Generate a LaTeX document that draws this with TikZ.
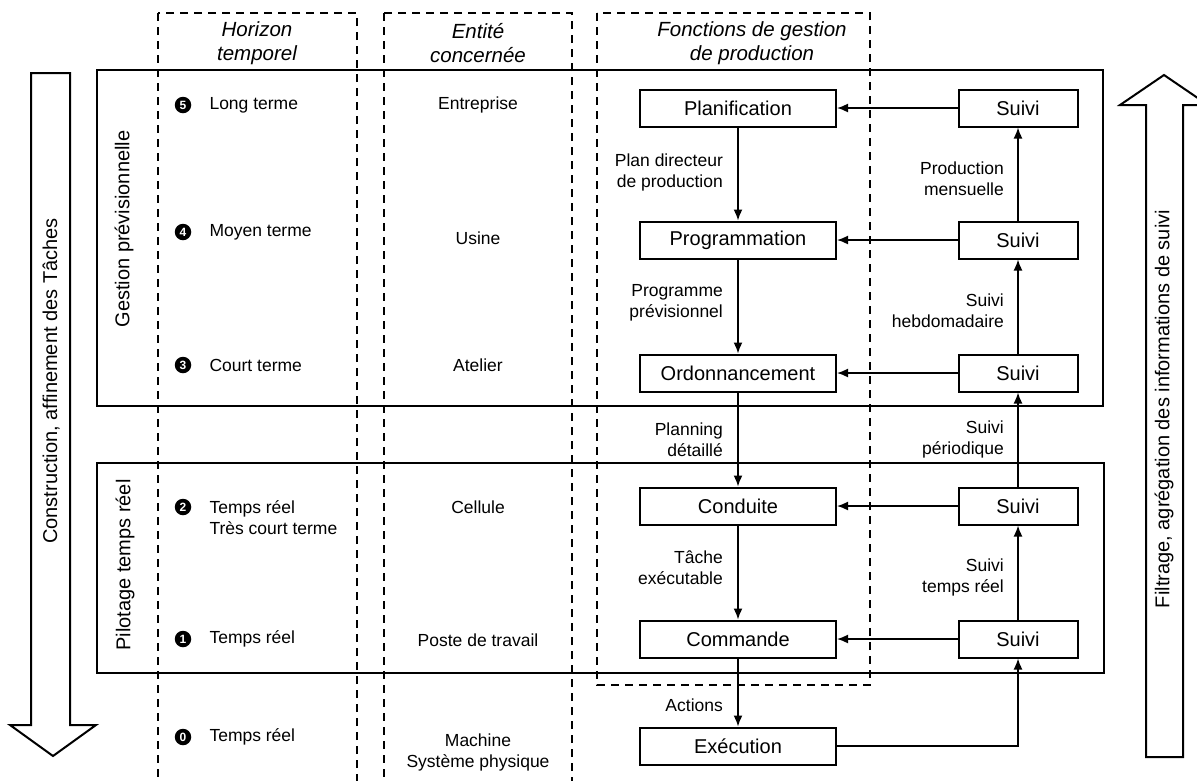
\documentclass[tikz,border=0pt]{standalone}
\usepackage{fontspec}
\setmainfont{Liberation Sans}
\usetikzlibrary{arrows.meta, calc}

\tikzset{
    zone/.style={draw, line width=2pt},
    colbox/.style={draw, line width=2.2pt, dash pattern=on 8pt off 6pt},
    fbox/.style={draw, line width=2pt, minimum width=196pt, minimum height=37pt, inner sep=0pt, font=\fontsize{20}{24}\selectfont},
    sbox/.style={fbox, minimum width=119pt},
    flow/.style={line width=1.6pt, -{Latex[length=11pt,width=9pt]}},
    lbl/.style={font=\fontsize{17.5}{21}\selectfont, align=right},
    side/.style={font=\fontsize{17.5}{21}\selectfont, align=left, anchor=west},
    ent/.style={font=\fontsize{17.5}{21}\selectfont, align=center},
    head/.style={font=\itshape\fontsize{20.5}{24}\selectfont, align=center},
    num/.style={circle, fill=black, text=white, inner sep=0pt, minimum size=16.5pt, font=\bfseries\fontsize{12}{12}\selectfont},
    vtxt/.style={rotate=90, font=\fontsize{20}{24}\selectfont},
    bigarrow/.style={draw, line width=2pt, fill=white}
}

\begin{document}
\begin{tikzpicture}[x=1pt, y=-1pt]
    \useasboundingbox (0,0) rectangle (1197,780);

    % niveaux
    \draw[zone] (97,70) rectangle (1103,406);
    \draw[zone] (97,463) rectangle (1104,673);

    % colonnes
    \draw[colbox] (158,13) rectangle (357,795);
    \draw[colbox] (384,13) rectangle (572,795);
    \draw[colbox] (597,13) rectangle (870,685);

    % grandes fleches
    \draw[bigarrow] (31,73) -- (70,73) -- (70,725) -- (96,725) -- (53,756) -- (10,725) -- (31,725) -- cycle;
    \draw[bigarrow] (1146,757) -- (1146,105) -- (1120,105) -- (1164,75) -- (1208,105) -- (1183,105) -- (1183,757) -- cycle;
    \node[vtxt] (construction) at (51,381) {Construction, affinement des Tâches};
    \node[vtxt] (filtrage) at (1164,409) {Filtrage, agrégation des informations de suivi};
    \node[vtxt] (gestion) at (124,229) {Gestion prévisionnelle};
    \node[vtxt] (pilotage) at (125,565) {Pilotage temps réel};

    % en-tetes
    \node[head] (hhorizon) at (257,43) {Horizon\\temporel};
    \node[head] (hentite) at (478,43) {Entité\\concernée};
    \node[head] (hfonctions) at (752,43) {Fonctions de gestion\\de production};

    % horizon temporel
    \foreach \n/\y/\t in {5/105/Long terme, 4/232/Moyen terme, 3/365/Court terme, 1/639/Temps réel, 0/737/Temps réel} {
        \node[num] (n\n) at (183,\y) {\n};
        \node[side] (h\n) at (206,\y) {\t};
    }
    \node[num] (n2) at (183,507) {2};
    \node[side] (h2) at (206,517.5) {Temps réel\\Très court terme};

    % entites
    \foreach \n/\y/\t in {5/105/Entreprise, 4/238/Usine, 3/365/Atelier, 2/507/Cellule, 1/640/Poste de travail} {
        \node[ent] (e\n) at (478,\y) {\t};
    }
    \node[ent] (e0) at (478,752) {Machine\\Système physique};

    % fonctions
    \node[fbox] (plan) at (738,108) {Planification};
    \node[fbox] (prog) at (738,240) {Programmation};
    \node[fbox] (ordo) at (738,373) {Ordonnancement};
    \node[fbox] (cond) at (738,506) {Conduite};
    \node[fbox] (comm) at (738,639) {Commande};
    \node[fbox] (exec) at (738,746) {Exécution};

    \foreach \n/\y/\f in {5/108/plan, 4/240/prog, 3/373/ordo, 2/506/cond, 1/639/comm} {
        \node[sbox] (s\n) at (1018,\y) {Suivi};
        \draw[flow] (s\n) -- (\f);
    }

    % flux descendant
    \draw[flow] (plan) -- node[lbl, left=11pt, pos=0.48] {Plan directeur\\de production} (prog);
    \draw[flow] (prog) -- node[lbl, left=11pt, pos=0.46] {Programme\\prévisionnel} (ordo);
    \draw[flow] (ordo) -- node[lbl, left=11pt] {Planning\\détaillé} (cond);
    \draw[flow] (cond) -- node[lbl, left=11pt, pos=0.45] {Tâche\\exécutable} (comm);
    \draw[flow] (comm) -- node[lbl, left=11pt, pos=0.68] {Actions} (exec);

    % flux montant
    \draw[flow] (exec) -| (s1);
    \draw[flow] (s1) -- node[lbl, left=10pt, pos=0.45] {Suivi\\temps réel} (s2);
    \draw[flow] (s2) -- node[lbl, left=10pt] {Suivi\\périodique} (s3);
    \draw[flow] (s3) -- node[lbl, left=10pt, pos=0.45] {Suivi\\hebdomadaire} (s4);
    \draw[flow] (s4) -- node[lbl, left=10pt, pos=0.45] {Production\\mensuelle} (s5);
\end{tikzpicture}
\end{document}
